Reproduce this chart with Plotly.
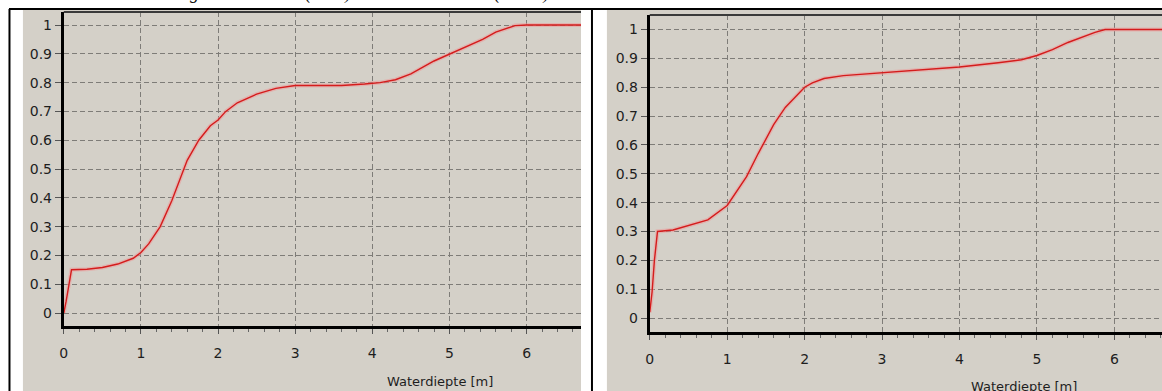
import plotly.graph_objects as go

# ---------------- data ----------------
depth_left = [0, 0.03, 0.1, 0.3, 0.5, 0.7, 0.9, 1.0, 1.1, 1.25, 1.4, 1.5, 1.6, 1.75, 1.9, 2.0,
              2.1, 2.25, 2.5, 2.75, 3.0, 3.3, 3.6, 3.9, 4.1, 4.3, 4.5, 4.8, 5.1, 5.43, 5.6, 5.85, 6.0, 6.8]
frac_left = [0, 0.04, 0.15, 0.152, 0.158, 0.17, 0.19, 0.21, 0.24, 0.30, 0.39, 0.46, 0.53, 0.60, 0.65, 0.67,
             0.70, 0.73, 0.76, 0.78, 0.79, 0.79, 0.79, 0.795, 0.80, 0.81, 0.83, 0.875, 0.91, 0.95, 0.975, 0.998, 1.0, 1.0]

depth_right = [0, 0.03, 0.06, 0.1, 0.3, 0.5, 0.75, 1.0, 1.1, 1.25, 1.4, 1.5, 1.6, 1.75, 1.9, 2.0,
               2.1, 2.25, 2.5, 3.0, 3.5, 4.0, 4.5, 4.8, 5.0, 5.2, 5.4, 5.6, 5.75, 5.88, 6.0, 6.7]
frac_right = [0.02, 0.09, 0.2, 0.30, 0.305, 0.32, 0.34, 0.39, 0.43, 0.49, 0.57, 0.62, 0.67, 0.73, 0.77, 0.80,
              0.815, 0.83, 0.84, 0.85, 0.86, 0.87, 0.885, 0.895, 0.91, 0.93, 0.955, 0.975, 0.99, 1.0, 1.0, 1.0]

y_tickvals = [0, 0.1, 0.2, 0.3, 0.4, 0.5, 0.6, 0.7, 0.8, 0.9, 1]
y_ticktext = ["0", "0.1", "0.2", "0.3", "0.4", "0.5", "0.6", "0.7", "0.8", "0.9", "1"]
x_tickvals = [0, 1, 2, 3, 4, 5, 6]
x_ticktext = ["0", "1", "2", "3", "4", "5", "6"]
x_title = "Waterdiepte [m]"
caption = "Figuur 5: Meer A (links) en Meer B in 2010 (rechts)"

# ---------------- layout helpers ----------------
W, H = 1162, 391
def px(x):
    return x / W
def py(y):
    return 1 - y / H

PANEL = "#d4d0c8"
GRID = "#7e7c78"
TXT = "#1e1e1e"
FONT = "DejaVu Sans, Arial, sans-serif"

fig = go.Figure()

for xs, ys, xa, ya in [(depth_left, frac_left, "x", "y"), (depth_right, frac_right, "x2", "y2")]:
    fig.add_trace(go.Scatter(x=xs, y=ys, xaxis=xa, yaxis=ya, mode="lines",
                             line=dict(color="rgba(240,150,150,0.5)", width=4),
                             hoverinfo="skip", showlegend=False))
    fig.add_trace(go.Scatter(x=xs, y=ys, xaxis=xa, yaxis=ya, mode="lines",
                             line=dict(color="#d41c1c", width=1.4),
                             showlegend=False))

def xaxis_cfg(dom, rng, anchor):
    return dict(domain=dom, range=rng, anchor=anchor,
                showline=True, linecolor="black", linewidth=3,
                ticks="outside", ticklen=5, tickcolor="#555555", tickwidth=1,
                tickvals=x_tickvals, ticktext=x_ticktext,
                tickfont=dict(family=FONT, size=14, color=TXT),
                ticklabelstandoff=7,
                showgrid=True, gridcolor=GRID, gridwidth=1, griddash="5px,3px",
                zeroline=False, fixedrange=True,
                minor=dict(dtick=0.2, ticks="outside", ticklen=3, tickcolor="#666666", showgrid=False))

def yaxis_cfg(dom, rng, anchor):
    return dict(domain=dom, range=rng, anchor=anchor,
                showline=True, linecolor="black", linewidth=3,
                ticks="outside", ticklen=6, tickcolor="#555555", tickwidth=1,
                tickvals=y_tickvals, ticktext=y_ticktext,
                tickfont=dict(family=FONT, size=14, color=TXT),
                showgrid=True, gridcolor=GRID, gridwidth=1, griddash="5px,3px",
                zeroline=False, fixedrange=True)

L_x0, L_x1, L_top, L_bot = 60, 579, 12, 326
R_x0, R_x1, R_top, R_bot = 648, 1162, 15, 332
L_unit, R_unit = 77.4, 77.7
L_y0, L_ydiv = 313, 288.0
R_y0, R_ydiv = 318, 288.5

fig.update_layout(
    width=W, height=H, margin=dict(l=0, r=0, t=0, b=0),
    paper_bgcolor="white", plot_bgcolor="rgba(0,0,0,0)",
    xaxis=xaxis_cfg([px(L_x0), px(L_x1)], [0, (L_x1 - L_x0) / L_unit], "y"),
    yaxis=yaxis_cfg([py(L_bot), py(L_top)], [(L_y0 - L_bot) / L_ydiv, (L_y0 - L_top) / L_ydiv], "x"),
    xaxis2=xaxis_cfg([px(R_x0), 1.0], [0, (R_x1 - R_x0) / R_unit], "y2"),
    yaxis2=yaxis_cfg([py(R_bot), py(R_top)], [(R_y0 - R_bot) / R_ydiv, (R_y0 - R_top) / R_ydiv], "x2"),
    showlegend=False,
)

shapes = [
    # grey panels
    dict(type="rect", xref="paper", yref="paper", x0=px(19), x1=px(579), y0=0, y1=py(10),
         fillcolor=PANEL, line=dict(width=0), layer="below"),
    dict(type="rect", xref="paper", yref="paper", x0=px(605), x1=1, y0=0, y1=py(10),
         fillcolor=PANEL, line=dict(width=0), layer="below"),
    # black table borders
    dict(type="line", xref="paper", yref="paper", x0=px(5), x1=1, y0=py(9), y1=py(9),
         line=dict(color="black", width=2)),
    dict(type="line", xref="paper", yref="paper", x0=px(5.5), x1=px(5.5), y0=0, y1=py(9),
         line=dict(color="black", width=2)),
    dict(type="line", xref="paper", yref="paper", x0=px(590), x1=px(590), y0=0, y1=py(9),
         line=dict(color="black", width=2)),
    # top frame of the plot areas
    dict(type="line", xref="paper", yref="paper", x0=px(L_x0), x1=px(L_x1), y0=py(L_top), y1=py(L_top),
         line=dict(color="#3a3a3a", width=2)),
    dict(type="line", xref="paper", yref="paper", x0=px(R_x0), x1=1, y0=py(R_top), y1=py(R_top),
         line=dict(color="#3a3a3a", width=2)),
]
fig.update_layout(shapes=shapes)

annotations = [
    dict(text=x_title, xref="paper", yref="paper", x=px(438), y=py(381),
         xanchor="center", yanchor="middle", showarrow=False,
         font=dict(family=FONT, size=13, color=TXT)),
    dict(text=x_title, xref="paper", yref="paper", x=px(1024), y=py(386),
         xanchor="center", yanchor="middle", showarrow=False,
         font=dict(family=FONT, size=13, color=TXT)),
    dict(text="<i>" + caption + "</i>", xref="paper", yref="paper", x=px(168), y=py(6),
         xanchor="left", yanchor="bottom", showarrow=False,
         font=dict(family="Liberation Serif, Times New Roman, serif", size=18, color="black")),
]
fig.update_layout(annotations=annotations)

fig.write_html("out.html",
               config={"displayModeBar": False, "staticPlot": True},
               post_script="document.body.style.margin='0';document.body.style.overflow='hidden';")
